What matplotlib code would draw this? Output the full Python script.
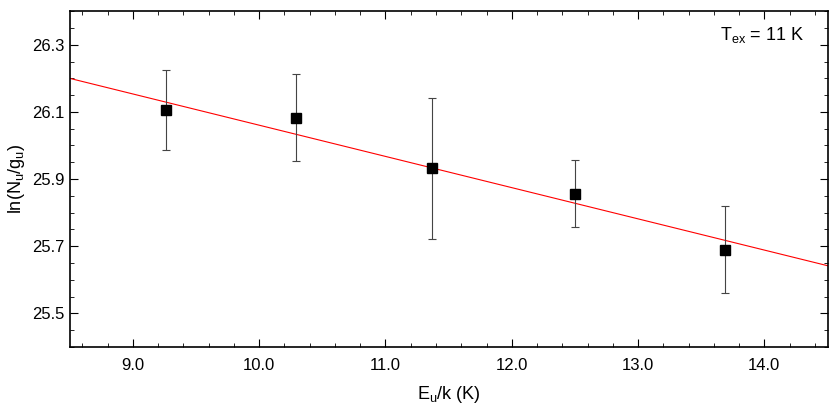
import numpy as np
import matplotlib.pyplot as plt
from matplotlib.ticker import MultipleLocator, FixedLocator

plt.rcParams['font.family'] = ['Liberation Sans', 'DejaVu Sans']

# Dati
eu_k = [9.26, 10.29, 11.37, 12.50, 13.69]
ln_ng = [26.106, 26.083, 25.932, 25.857, 25.690]
err = [0.12, 0.13, 0.21, 0.10, 0.13]
fit_slope = -0.093
fit_intercept = 26.9905

fig = plt.figure(figsize=(8.3, 4.15), dpi=100)
ax = fig.add_axes([0.084, 0.164, 0.913, 0.809])

xx = np.array([8.5, 14.5])
ax.plot(xx, fit_intercept + fit_slope * xx, color='red', lw=0.8)
ax.errorbar(eu_k, ln_ng, yerr=err, fmt='s', color='black', ms=7,
            ecolor='#444444', elinewidth=0.8, capsize=3, capthick=0.8)

ax.set_xlim(8.5, 14.5)
ax.set_ylim(25.4, 26.4)
ax.xaxis.set_major_locator(MultipleLocator(1.0))
ax.xaxis.set_minor_locator(MultipleLocator(0.2))
ax.yaxis.set_major_locator(FixedLocator([25.5, 25.7, 25.9, 26.1, 26.3]))
ax.yaxis.set_minor_locator(MultipleLocator(0.05))
ax.xaxis.set_major_formatter(plt.FormatStrFormatter('%.1f'))
ax.yaxis.set_major_formatter(plt.FormatStrFormatter('%.1f'))
ax.tick_params(which='both', direction='in', top=True, right=True, labelsize=12)
ax.tick_params(which='major', length=6)
ax.tick_params(which='minor', length=3)
ax.tick_params(axis='x', pad=8)
for s in ax.spines.values():
    s.set_linewidth(1.2)

ax.set_xlabel(r'E$_\mathregular{u}$/k (K)', fontsize=13, labelpad=8)
ax.set_ylabel(r'ln(N$_\mathregular{u}$/g$_\mathregular{u}$)', fontsize=13)
ax.text(0.97, 0.93, r'T$_\mathregular{ex}$ = 11 K', transform=ax.transAxes,
        ha='right', va='center', fontsize=13)

fig.savefig('out.png')
